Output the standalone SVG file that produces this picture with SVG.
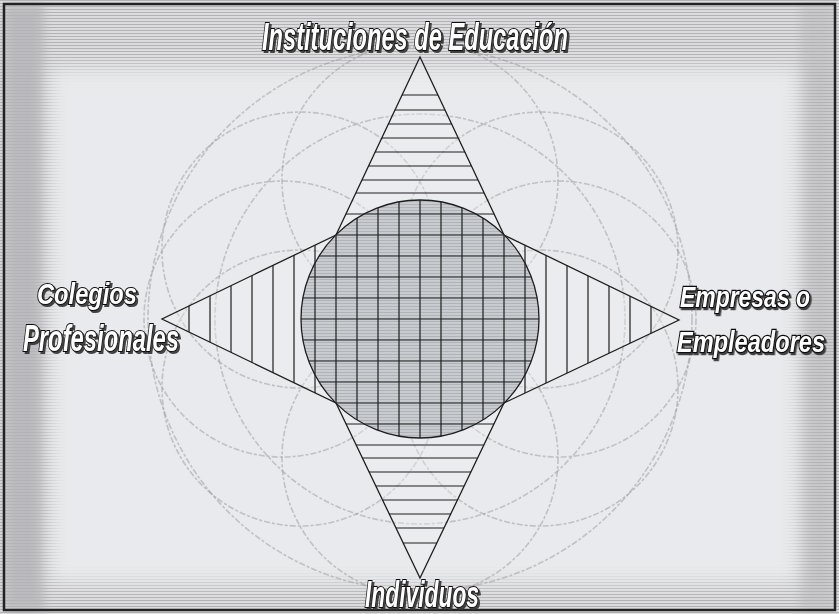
<svg xmlns="http://www.w3.org/2000/svg" width="839" height="614" viewBox="0 0 839 614">
<defs>
<pattern id="stripes" width="4" height="3" patternUnits="userSpaceOnUse">
<rect width="4" height="3" fill="#dcdcde"/>
<rect width="4" height="1" fill="#b2b2b6"/>
</pattern>
<pattern id="dark" width="4" height="3" patternUnits="userSpaceOnUse">
<rect width="4" height="3" fill="#c4c4c7"/>
<rect width="4" height="1" fill="#8e8e92"/>
</pattern>
<pattern id="fine" width="4" height="4" patternUnits="userSpaceOnUse">
<rect width="4" height="4" fill="#ecedef"/>
<rect width="4" height="1" fill="#e0e1e4"/>
</pattern>
<pattern id="cfill" width="3" height="3" patternUnits="userSpaceOnUse">
<rect width="3" height="3" fill="#c8cbcf"/>
<rect width="3" height="1" fill="#b0b4b8"/>
</pattern>
<filter id="blur" x="-10%" y="-10%" width="120%" height="120%"><feGaussianBlur stdDeviation="9"/></filter>
<filter id="blur2" x="-20%" y="-20%" width="140%" height="140%"><feGaussianBlur stdDeviation="5"/></filter>
<filter id="shadow" x="-5%" y="-20%" width="110%" height="140%"><feDropShadow dx="2" dy="2" stdDeviation="0.5" flood-color="#333" flood-opacity="0.9"/></filter>
<clipPath id="circ"><circle cx="420" cy="319" r="119"/></clipPath>
<clipPath id="starclip"><polygon points="420,57 504,235 679,320 504,403 420,578 336,403 162,319 336,235"/></clipPath>
<style>
.bgc{fill:none;stroke:#9a9a9e;stroke-width:1.6;stroke-opacity:0.5;stroke-dasharray:6 2 3 2}
.h{stroke:#1e1e1e;stroke-width:1.2}
.lbl{font-family:"Liberation Sans Narrow","Liberation Sans",Arial,sans-serif;font-weight:bold;font-style:italic;fill:#fff;stroke:#111;stroke-width:2.2;paint-order:stroke;filter:url(#shadow)}
.lbw{font-family:"Liberation Sans",Arial,sans-serif;font-weight:bold;font-style:italic;fill:#fff;stroke:#111;stroke-width:2.6;paint-order:stroke;filter:url(#shadow)}
</style>
</defs>
<g id="background">
<rect width="839" height="614" fill="url(#stripes)"/>
<rect x="4" y="4" width="40" height="606" fill="url(#dark)" filter="url(#blur2)" opacity="0.8"/>
<rect x="800" y="4" width="35" height="606" fill="url(#dark)" filter="url(#blur2)" opacity="0.5"/>
<rect x="50" y="68" width="748" height="515" fill="url(#fine)" filter="url(#blur)"/>
<rect x="4" y="4" width="831" height="606" fill="none" stroke="#222" stroke-width="2.5"/>
</g>
<g id="faded-circles">
<circle class="bgc" cx="420" cy="319" r="272"/>
<circle class="bgc" cx="420" cy="319" r="205"/>
<circle class="bgc" cx="420" cy="180" r="138"/>
<circle class="bgc" cx="420" cy="458" r="138"/>
<circle class="bgc" cx="300" cy="250" r="138"/>
<circle class="bgc" cx="540" cy="250" r="138"/>
<circle class="bgc" cx="300" cy="388" r="138"/>
<circle class="bgc" cx="540" cy="388" r="138"/>
<circle class="bgc" cx="282" cy="319" r="138"/>
<circle class="bgc" cx="558" cy="319" r="138"/>
</g>
<g id="star">
<polygon points="420,57 504,235 679,320 504,403 420,578 336,403 162,319 336,235" fill="#f0f1f3" fill-opacity="0.35" stroke="#1e1e1e" stroke-width="1.3"/>
<g clip-path="url(#starclip)">
<g class="h">
<line x1="330" y1="95" x2="510" y2="95"/><line x1="330" y1="110" x2="510" y2="110"/><line x1="330" y1="124" x2="510" y2="124"/><line x1="330" y1="138" x2="510" y2="138"/><line x1="330" y1="152" x2="510" y2="152"/><line x1="330" y1="166" x2="510" y2="166"/><line x1="330" y1="180" x2="510" y2="180"/><line x1="330" y1="193" x2="510" y2="193"/><line x1="330" y1="214" x2="510" y2="214"/>
<line x1="330" y1="424" x2="510" y2="424"/><line x1="330" y1="445" x2="510" y2="445"/><line x1="330" y1="458" x2="510" y2="458"/><line x1="330" y1="472" x2="510" y2="472"/><line x1="330" y1="486" x2="510" y2="486"/><line x1="330" y1="500" x2="510" y2="500"/><line x1="330" y1="514" x2="510" y2="514"/><line x1="330" y1="528" x2="510" y2="528"/><line x1="330" y1="543" x2="510" y2="543"/>
<line x1="189" y1="230" x2="189" y2="410"/><line x1="210" y1="230" x2="210" y2="410"/><line x1="231" y1="230" x2="231" y2="410"/><line x1="252" y1="230" x2="252" y2="410"/><line x1="273" y1="230" x2="273" y2="410"/><line x1="294" y1="230" x2="294" y2="410"/><line x1="315" y1="230" x2="315" y2="410"/>
<line x1="525" y1="230" x2="525" y2="410"/><line x1="546" y1="230" x2="546" y2="410"/><line x1="567" y1="230" x2="567" y2="410"/><line x1="588" y1="230" x2="588" y2="410"/><line x1="609" y1="230" x2="609" y2="410"/><line x1="630" y1="230" x2="630" y2="410"/><line x1="651" y1="230" x2="651" y2="410"/>
</g>
</g>
</g>
<g id="circle">
<circle cx="420" cy="319" r="119" fill="url(#cfill)"/>
<g clip-path="url(#circ)" class="h">
<line x1="300" y1="214" x2="540" y2="214"/><line x1="300" y1="235" x2="540" y2="235"/><line x1="300" y1="256" x2="540" y2="256"/><line x1="300" y1="277" x2="540" y2="277"/><line x1="300" y1="298" x2="540" y2="298"/><line x1="300" y1="319" x2="540" y2="319"/><line x1="300" y1="340" x2="540" y2="340"/><line x1="300" y1="361" x2="540" y2="361"/><line x1="300" y1="382" x2="540" y2="382"/><line x1="300" y1="403" x2="540" y2="403"/><line x1="300" y1="424" x2="540" y2="424"/>
<line x1="315" y1="200" x2="315" y2="440"/><line x1="336" y1="200" x2="336" y2="440"/><line x1="357" y1="200" x2="357" y2="440"/><line x1="378" y1="200" x2="378" y2="440"/><line x1="399" y1="200" x2="399" y2="440"/><line x1="420" y1="200" x2="420" y2="440"/><line x1="441" y1="200" x2="441" y2="440"/><line x1="462" y1="200" x2="462" y2="440"/><line x1="483" y1="200" x2="483" y2="440"/><line x1="504" y1="200" x2="504" y2="440"/><line x1="525" y1="200" x2="525" y2="440"/>
</g>
<circle cx="420" cy="319" r="119" fill="none" stroke="#1e1e1e" stroke-width="1.3"/>
</g>
<g id="label-top"><text class="lbl" x="262" y="50" font-size="38" textLength="306" lengthAdjust="spacingAndGlyphs">Instituciones de Educación</text></g>
<g id="label-left"><text class="lbl" x="37" y="304" font-size="30" textLength="100" lengthAdjust="spacingAndGlyphs">Colegios</text><text class="lbl" x="23" y="351" font-size="36" textLength="156" lengthAdjust="spacingAndGlyphs">Profesionales</text></g>
<g id="label-right">
<text class="lbw" transform="translate(680,307) scale(0.765,1)" x="0" y="0" font-size="30">Empresas o</text>
<text class="lbw" transform="translate(677,352) scale(0.786,1)" x="0" y="0" font-size="30">Empleadores</text>
</g>
<g id="label-bottom"><text class="lbl" x="365" y="607" font-size="36" textLength="114" lengthAdjust="spacingAndGlyphs">Individuos</text></g>
</svg>
